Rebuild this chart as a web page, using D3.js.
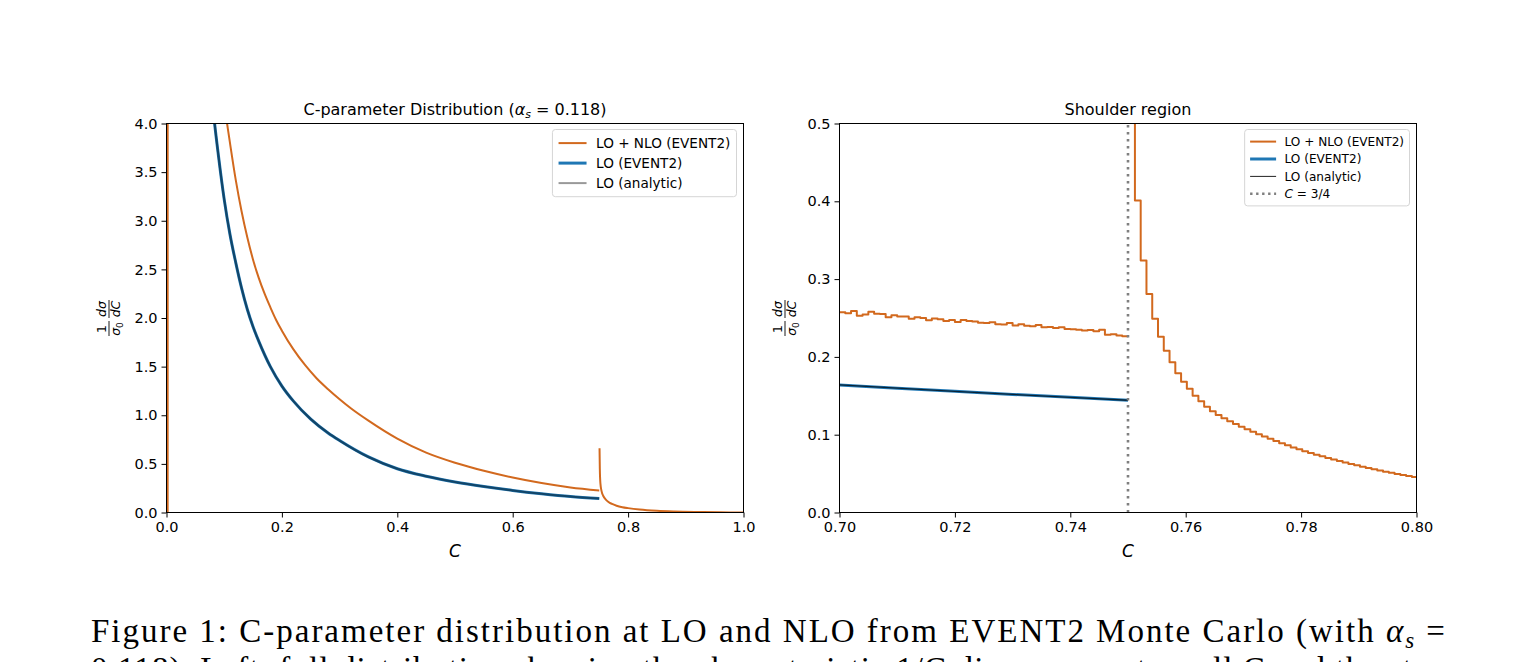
<!DOCTYPE html>
<html>
<head>
<meta charset="utf-8">
<script src="https://cdn.jsdelivr.net/npm/d3@7"></script>
<style>
  body { margin: 0; background: #fff; }
  svg text { font-family: "DejaVu Sans", sans-serif; fill: #000; }
</style>
</head>
<body>
<svg id="fig" width="1534" height="662"></svg>
<script>
// ---- full distribution (left panel) ----
const fullTicksX = [0, 0.2, 0.4, 0.6, 0.8, 1.0];
const fullTicksY = [0, 0.5, 1.0, 1.5, 2.0, 2.5, 3.0, 3.5, 4.0];

const loC   = [0.05, 0.075, 0.083, 0.09, 0.1, 0.11, 0.12, 0.13, 0.14, 0.15, 0.16, 0.18, 0.2, 0.22, 0.25, 0.28, 0.3, 0.35, 0.4, 0.45, 0.5, 0.55, 0.6, 0.65, 0.7, 0.75];
const loVal = [6.5, 4.5, 4.02, 3.67, 3.22, 2.86, 2.57, 2.31, 2.09, 1.91, 1.76, 1.50, 1.30, 1.145, 0.96, 0.818, 0.74, 0.571, 0.45, 0.373, 0.314, 0.267, 0.227, 0.193, 0.164, 0.144];

// NLO spike at C -> 0
const spikeC   = [0.0018, 0.0024, 0.004, 0.01];
const spikeVal = [-30, 60, 45, 22];
// NLO below the shoulder
const nloC   = [0.01, 0.03, 0.06, 0.09, 0.1, 0.105, 0.11, 0.12, 0.13, 0.14, 0.15, 0.16, 0.17, 0.18, 0.19, 0.2, 0.22, 0.24, 0.26, 0.28, 0.3, 0.32, 0.35, 0.4, 0.45, 0.5, 0.55, 0.6, 0.65, 0.7, 0.75];
const nloVal = [22, 10, 6, 4.6, 4.2, 4.0, 3.8, 3.42, 3.1, 2.83, 2.6, 2.41, 2.25, 2.11, 1.98, 1.87, 1.677, 1.517, 1.381, 1.268, 1.165, 1.07, 0.945, 0.76, 0.616, 0.512, 0.429, 0.36, 0.303, 0.258, 0.227];

// NLO above the shoulder
const nloTailC   = [0.7505, 0.751, 0.752, 0.754, 0.757, 0.761, 0.766, 0.772, 0.78, 0.79, 0.80, 0.82, 0.85, 0.88, 0.92, 0.96, 1.0];
const nloTailVal = [0.66, 0.45, 0.30, 0.22, 0.17, 0.135, 0.108, 0.088, 0.07, 0.055, 0.045, 0.03, 0.017, 0.01, 0.005, 0.002, 0.0005];

// ---- shoulder region (right panel) ----
const zoomTicksX = [0.70, 0.72, 0.74, 0.76, 0.78, 0.80];
const zoomTicksY = [0, 0.1, 0.2, 0.3, 0.4, 0.5];
const binWidth = 0.001;
const belowStart = 0.700;
const aboveStart = 0.7502;

const nloBelowBins = [
  0.2575, 0.2560, 0.2590, 0.2530, 0.2545, 0.2580, 0.2555, 0.2550, 0.2510, 0.2535,
  0.2520, 0.2520, 0.2490, 0.2510, 0.2500, 0.2470, 0.2495, 0.2485, 0.2460, 0.2475,
  0.2450, 0.2475, 0.2460, 0.2455, 0.2440, 0.2435, 0.2445, 0.2420, 0.2415, 0.2435,
  0.2405, 0.2420, 0.2400, 0.2395, 0.2410, 0.2380, 0.2385, 0.2370, 0.2380, 0.2360,
  0.2355, 0.2350, 0.2340, 0.2345, 0.2330, 0.2350, 0.2285, 0.2290, 0.2275, 0.2265
];
const nloAboveBins = [
  0.95, 0.401, 0.324, 0.281, 0.249, 0.226, 0.208, 0.193, 0.179, 0.168,
  0.159, 0.150, 0.143, 0.136, 0.130, 0.1253, 0.1210, 0.1172, 0.1137, 0.1102,
  0.1070, 0.1038, 0.1007, 0.0976, 0.0947, 0.0918, 0.0890, 0.0863, 0.0837, 0.0812,
  0.0788, 0.0765, 0.0743, 0.0722, 0.0701, 0.0681, 0.0661, 0.0642, 0.0624, 0.0606,
  0.0589, 0.0572, 0.0556, 0.0540, 0.0525, 0.0510, 0.0496, 0.0482, 0.0468, 0.0455
];
const loZoomC   = [0.70, 0.71, 0.72, 0.73, 0.74, 0.75];
const loZoomVal = [0.1640, 0.1598, 0.1557, 0.1518, 0.1480, 0.1443];
const shoulderC = 0.75;

const ORANGE = "#d2691e";
const BLUE = "#1f77b4";

const svg = d3.select("#fig");

function makePanel(box, xDomain, yDomain, xTicks, yTicks, xFmt, yFmt, id) {
  const x = d3.scaleLinear().domain(xDomain).range([box.left, box.right]);
  const y = d3.scaleLinear().domain(yDomain).range([box.bottom, box.top]);

  svg.append("clipPath").attr("id", id).append("rect")
    .attr("x", box.left).attr("y", box.top)
    .attr("width", box.right - box.left).attr("height", box.bottom - box.top);

  const xAxis = svg.append("g")
    .attr("transform", `translate(0,${box.bottom})`)
    .call(d3.axisBottom(x).tickValues(xTicks).tickFormat(d3.format(xFmt)).tickSize(5).tickPadding(4).tickSizeOuter(0));
  const yAxis = svg.append("g")
    .attr("transform", `translate(${box.left},0)`)
    .call(d3.axisLeft(y).tickValues(yTicks).tickFormat(d3.format(yFmt)).tickSize(5).tickPadding(4).tickSizeOuter(0));
  [xAxis, yAxis].forEach((a) => {
    a.select(".domain").remove();
    a.attr("font-family", null).attr("font-size", null);
    a.selectAll("text").style("font-size", "14.5px");
    a.selectAll("line").attr("stroke", "#000").attr("stroke-width", 1);
  });

  const plot = svg.append("g").attr("clip-path", `url(#${id})`);
  return { x, y, plot, box };
}

function frame(p) {
  svg.append("rect")
    .attr("x", p.box.left).attr("y", p.box.top)
    .attr("width", p.box.right - p.box.left).attr("height", p.box.bottom - p.box.top)
    .attr("fill", "none").attr("stroke", "#000").attr("stroke-width", 1);
}

function drawPath(p, pts, color, width, curve, opacity) {
  const line = d3.line().x((d) => p.x(d[0])).y((d) => p.y(d[1])).curve(curve || d3.curveLinear);
  p.plot.append("path")
    .attr("d", line(pts))
    .attr("fill", "none")
    .attr("stroke", color)
    .attr("stroke-width", width)
    .attr("stroke-opacity", opacity == null ? 1 : opacity)
    .attr("stroke-linejoin", "round");
}

function stairs(start, values) {
  const pts = values.map((v, i) => [start + i * binWidth, v]);
  pts.push([start + values.length * binWidth, values[values.length - 1]]);
  return pts;
}

function title(p, build) {
  const t = svg.append("text")
    .attr("x", (p.box.left + p.box.right) / 2).attr("y", p.box.top - 8.5)
    .attr("text-anchor", "middle").style("font-size", "16px");
  build(t);
}

function xLabel(p) {
  svg.append("text")
    .attr("x", (p.box.left + p.box.right) / 2).attr("y", p.box.bottom + 44)
    .attr("text-anchor", "middle")
    .style("font-size", "17px").style("font-style", "italic")
    .text("C");
}

function yLabel(cx, cy) {
  const g = svg.append("g").attr("transform", `translate(${cx},${cy}) rotate(-90)`);
  const fs = "12.5px";
  // 1 / sigma_0
  g.append("text").attr("x", -11).attr("y", -3).attr("text-anchor", "middle").style("font-size", fs).text("1");
  g.append("line").attr("x1", -18).attr("x2", -3).attr("y1", 0).attr("y2", 0).attr("stroke", "#000").attr("stroke-width", 0.9);
  const den = g.append("text").attr("x", -11).attr("y", 11).attr("text-anchor", "middle").style("font-size", fs);
  den.append("tspan").style("font-style", "italic").text("σ");
  den.append("tspan").attr("dy", 2.5).style("font-size", "9px").text("0");
  // d sigma / dC
  g.append("text").attr("x", 9).attr("y", -3).attr("text-anchor", "middle").style("font-size", fs).style("font-style", "italic").text("dσ");
  g.append("line").attr("x1", 0).attr("x2", 18).attr("y1", 0).attr("y2", 0).attr("stroke", "#000").attr("stroke-width", 0.9);
  g.append("text").attr("x", 9).attr("y", 11).attr("text-anchor", "middle").style("font-size", fs).style("font-style", "italic").text("dC");
}

function legend(p, items, fontSize, rowH, handleLen) {
  const pad = fontSize * 0.45;
  const g = svg.append("g");
  const rowsG = g.append("g");
  let maxW = 0;
  items.forEach((it, i) => {
    const t = rowsG.append("text").attr("y", i * rowH + fontSize * 0.36).style("font-size", fontSize + "px");
    it.label(t);
    maxW = Math.max(maxW, t.node().getComputedTextLength());
  });
  const textX = pad + handleLen + fontSize * 0.7;
  const w = textX + maxW + pad;
  const h = pad * 2 + rowH * (items.length - 1) + fontSize * 1.1;
  const left = p.box.right - 7 - w;
  const top = p.box.top + 6;
  g.insert("rect", ":first-child")
    .attr("x", left).attr("y", top).attr("width", w).attr("height", h).attr("rx", 3)
    .attr("fill", "#fff").attr("fill-opacity", 0.8).attr("stroke", "#d5d5d5").attr("stroke-width", 1);
  rowsG.attr("transform", `translate(${left},${top + pad + fontSize * 0.55})`);
  rowsG.selectAll("text").attr("x", textX);
  items.forEach((it, i) => {
    rowsG.append("line")
      .attr("x1", pad).attr("x2", pad + handleLen)
      .attr("y1", i * rowH).attr("y2", i * rowH)
      .attr("stroke", it.color).attr("stroke-width", it.width)
      .attr("stroke-opacity", it.opacity == null ? 1 : it.opacity)
      .attr("stroke-dasharray", it.dash || null);
  });
}

// ---------- left panel ----------
const full = makePanel({ left: 166.5, right: 743.5, top: 123.5, bottom: 512.5 }, [0, 1], [0, 4],
  fullTicksX, fullTicksY, ".1f", ".1f", "clipFull");
drawPath(full, d3.zip(spikeC, spikeVal), ORANGE, 2);
drawPath(full, d3.zip(nloC, nloVal), ORANGE, 2, d3.curveMonotoneX);
drawPath(full, d3.zip(nloTailC, nloTailVal), ORANGE, 2, d3.curveMonotoneX);
drawPath(full, d3.zip(loC, loVal), BLUE, 3, d3.curveMonotoneX);
drawPath(full, d3.zip(loC, loVal), "#000", 2.1, d3.curveMonotoneX, 0.42);
frame(full);
title(full, (t) => {
  t.append("tspan").text("C-parameter Distribution (");
  t.append("tspan").style("font-style", "italic").text("α");
  t.append("tspan").attr("dy", 3).style("font-size", "11px").style("font-style", "italic").text("s");
  t.append("tspan").attr("dy", -3).text(" = 0.118)");
});
xLabel(full);
yLabel(109, 318);
legend(full, [
  { label: (t) => t.text("LO + NLO (EVENT2)"), color: ORANGE, width: 2 },
  { label: (t) => t.text("LO (EVENT2)"), color: BLUE, width: 3 },
  { label: (t) => t.text("LO (analytic)"), color: "#000", width: 2, opacity: 0.4 }
], 13.6, 20, 28);

// ---------- right panel ----------
const zoom = makePanel({ left: 839.5, right: 1416.5, top: 123.5, bottom: 512.5 }, [0.7, 0.8], [0, 0.5],
  zoomTicksX, zoomTicksY, ".2f", ".1f", "clipZoom");
drawPath(zoom, stairs(belowStart, nloBelowBins), ORANGE, 2, d3.curveStepAfter);
drawPath(zoom, stairs(aboveStart, nloAboveBins), ORANGE, 2, d3.curveStepAfter);
drawPath(zoom, d3.zip(loZoomC, loZoomVal), BLUE, 3);
drawPath(zoom, d3.zip(loZoomC, loZoomVal), "#000", 1.3, d3.curveLinear, 0.7);
zoom.plot.append("line")
  .attr("x1", zoom.x(shoulderC)).attr("x2", zoom.x(shoulderC))
  .attr("y1", zoom.y(0)).attr("y2", zoom.y(0.5))
  .attr("stroke", "#7f7f7f").attr("stroke-width", 2.6).attr("stroke-dasharray", "2.6,4.4");
frame(zoom);
title(zoom, (t) => t.text("Shoulder region"));
xLabel(zoom);
yLabel(785, 318);
legend(zoom, [
  { label: (t) => t.text("LO + NLO (EVENT2)"), color: ORANGE, width: 2 },
  { label: (t) => t.text("LO (EVENT2)"), color: BLUE, width: 3 },
  { label: (t) => t.text("LO (analytic)"), color: "#222", width: 1 },
  { label: (t) => { t.append("tspan").style("font-style", "italic").text("C"); t.append("tspan").text(" = 3/4"); },
    color: "#7f7f7f", width: 2.4, dash: "2.4,3.6" }
], 12.1, 17.4, 26);

// ---------- caption ----------
const cap = svg.append("g");
const line1 = cap.append("text").attr("x", 91).attr("y", 642)
  .attr("textLength", 1354).attr("lengthAdjust", "spacing")
  .style("font-family", "'Liberation Serif', serif").style("font-size", "33px");
line1.append("tspan").text("Figure 1: C-parameter distribution at LO and NLO from EVENT2 Monte Carlo (with ");
line1.append("tspan").style("font-style", "italic").text("α");
line1.append("tspan").attr("dy", 6).style("font-size", "23px").style("font-style", "italic").text("s");
line1.append("tspan").attr("dy", -6).text(" =");
cap.append("text").attr("x", 91).attr("y", 680)
  .attr("textLength", 1354).attr("lengthAdjust", "spacing")
  .style("font-family", "'Liberation Serif', serif").style("font-size", "33px")
  .text("0.118). Left: full distribution showing the characteristic 1/C divergence at small C and the step");
</script>
</body>
</html>
